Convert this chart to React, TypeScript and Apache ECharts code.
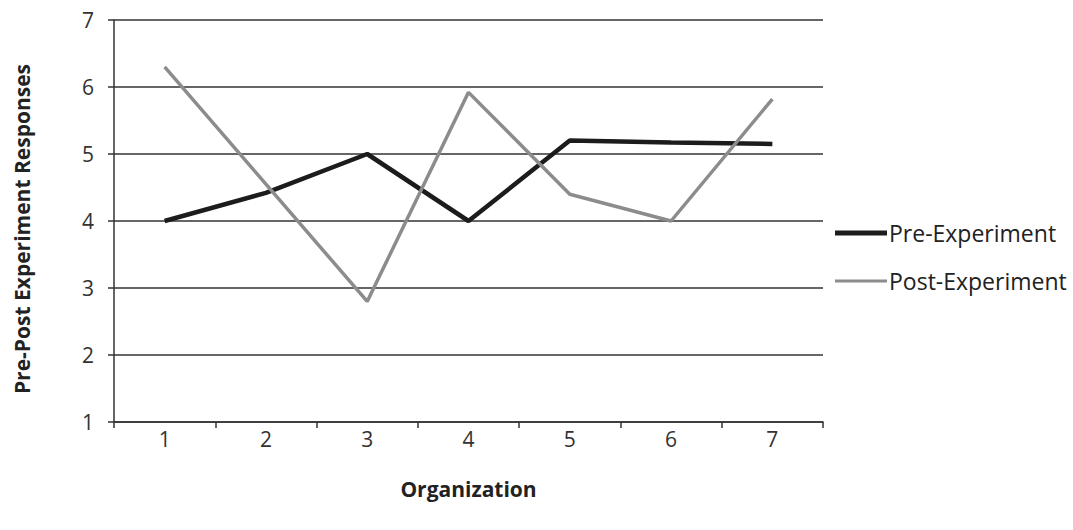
import React, { useEffect, useRef } from "react";
import * as echarts from "echarts";

const categories = ["1", "2", "3", "4", "5", "6", "7"];
const preExperiment = [4.0, 4.42, 5.0, 4.0, 5.2, 5.17, 5.15];
const postExperiment = [6.3, 4.55, 2.8, 5.92, 4.4, 4.0, 5.82];
const yTicks = { min: 1, max: 7, interval: 1 };

const FONT = "'Open Sans', 'Noto Sans', sans-serif";
const PRE_COLOR = "#1c1c1c";
const POST_COLOR = "#8c8c8c";

export default function App() {
  const ref = useRef<HTMLDivElement>(null);
  useEffect(() => {
    if (!ref.current) return;
    const chart = echarts.init(ref.current, null, { renderer: "svg" });
    const legendText = { fontFamily: FONT, fontSize: 23, color: "#222", lineHeight: 26, padding: [0, 0, 0, -3] };
    chart.setOption({
      animation: false,
      backgroundColor: "#ffffff",
      grid: { left: 114, right: 250, top: 20, bottom: 108 },
      legend: [
        {
          left: 830,
          top: 215,
          itemWidth: 52,
          itemHeight: 5,
          icon: "rect",
          textStyle: legendText,
          data: [{ name: "Pre-Experiment", itemStyle: { color: PRE_COLOR } }],
        },
        {
          left: 830,
          top: 263,
          itemWidth: 52,
          itemHeight: 3,
          icon: "rect",
          textStyle: legendText,
          data: [{ name: "Post-Experiment", itemStyle: { color: POST_COLOR } }],
        },
      ],
      xAxis: {
        type: "category",
        data: categories,
        boundaryGap: true,
        name: "Organization",
        nameLocation: "middle",
        nameGap: 56,
        nameTextStyle: { fontFamily: FONT, fontSize: 21, fontWeight: "bold", color: "#222" },
        axisLine: { lineStyle: { color: "#333", width: 1.5 } },
        axisTick: { show: true, length: 6, lineStyle: { color: "#333", width: 1.5 } },
        axisLabel: { fontFamily: FONT, fontSize: 21, color: "#333", margin: 6 },
        splitLine: { show: false },
      },
      yAxis: {
        type: "value",
        min: yTicks.min,
        max: yTicks.max,
        interval: yTicks.interval,
        name: "Pre-Post Experiment Responses",
        nameLocation: "middle",
        nameGap: 82,
        nameTextStyle: { fontFamily: FONT, fontSize: 21, fontWeight: "bold", color: "#222", padding: [0, 16, 0, 0] },
        axisLine: { show: true, lineStyle: { color: "#333", width: 1.5 } },
        axisTick: { show: true, length: 6, lineStyle: { color: "#333", width: 1.5 } },
        axisLabel: { fontFamily: FONT, fontSize: 21, color: "#333", margin: 20 },
        splitLine: { show: true, lineStyle: { color: "#333", width: 1.5 } },
      },
      series: [
        {
          name: "Pre-Experiment",
          type: "line",
          data: preExperiment,
          symbol: "none",
          lineStyle: { color: PRE_COLOR, width: 4.5 },
          itemStyle: { color: PRE_COLOR },
          z: 3,
        },
        {
          name: "Post-Experiment",
          type: "line",
          data: postExperiment,
          symbol: "none",
          lineStyle: { color: POST_COLOR, width: 3.5 },
          itemStyle: { color: POST_COLOR },
          z: 4,
        },
      ],
    });
    return () => chart.dispose();
  }, []);
  return <div ref={ref} style={{ width: 1073, height: 530, position: "absolute", left: 0, top: 0 }} />;
}
